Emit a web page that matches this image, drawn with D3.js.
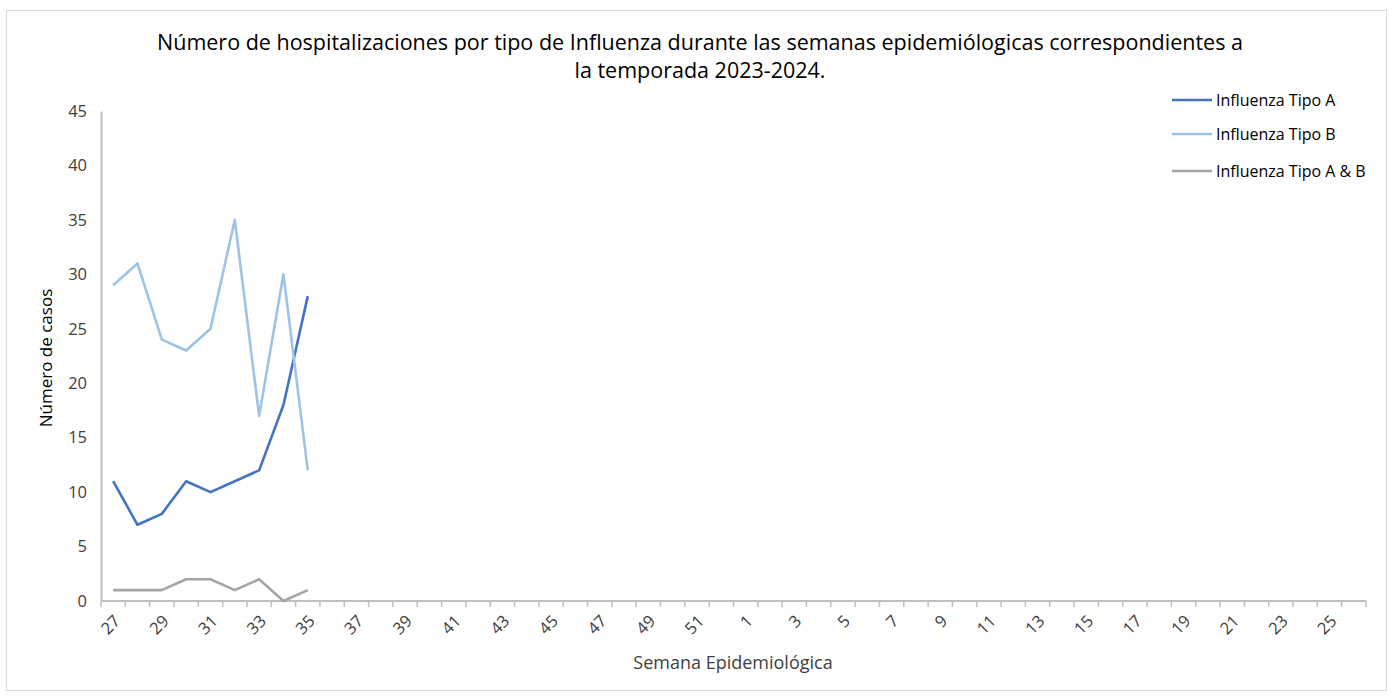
<!DOCTYPE html>
<html>
<head>
<meta charset="utf-8">
<script src="https://cdn.jsdelivr.net/npm/d3@7"></script>
<style>
  html, body { margin: 0; padding: 0; background: #ffffff; }
  svg { display: block; font-family: "Open Sans", "Noto Sans", sans-serif; }
</style>
</head>
<body>
<div id="chart"></div>
<script>
// weeks 27..52 of 2023 then 1..26 of 2024
const weeks = [
  27, 28, 29, 30, 31, 32, 33, 34, 35, 36, 37, 38, 39, 40, 41, 42, 43, 44, 45, 46, 47, 48, 49, 50, 51, 52,
  1, 2, 3, 4, 5, 6, 7, 8, 9, 10, 11, 12, 13, 14, 15, 16, 17, 18, 19, 20, 21, 22, 23, 24, 25, 26
];
const tipoA = [11, 7, 8, 11, 10, 11, 12, 18, 28];
const tipoB = [29, 31, 24, 23, 25, 35, 17, 30, 12];
const tipoAB = [1, 1, 1, 2, 2, 1, 2, 0, 1];
const yTicks = [0, 5, 10, 15, 20, 25, 30, 35, 40, 45];

const seriesNames = ['Influenza Tipo A', 'Influenza Tipo B', 'Influenza Tipo A & B'];
const seriesColors = ['#4472C4', '#9DC3E6', '#A5A5A5'];
const seriesValues = [tipoA, tipoB, tipoAB];

const width = 1392;
const height = 696;
const plot = { left: 101, right: 1366, top: 111, bottom: 601 };
const AXIS_COLOR = '#bfbfbf';
const TEXT_COLOR = '#404040';

const svg = d3.select('#chart').append('svg')
  .attr('width', width)
  .attr('height', height);

// outer chart border
svg.append('rect')
  .attr('x', 6.5).attr('y', 10.5)
  .attr('width', 1380).attr('height', 680)
  .attr('fill', '#ffffff')
  .attr('stroke', '#d9d9d9')
  .attr('stroke-width', 1);

const x = d3.scaleBand()
  .domain(weeks.map(String))
  .range([plot.left, plot.right])
  .padding(0);

const y = d3.scaleLinear()
  .domain([0, 45])
  .range([plot.bottom, plot.top]);

// title
const title = svg.append('text')
  .attr('text-anchor', 'middle')
  .attr('font-size', 21.5)
  .attr('fill', '#000000');
title.append('tspan').attr('x', 700).attr('y', 50)
  .text('Número de hospitalizaciones por tipo de Influenza durante las semanas epidemiólogicas correspondientes a');
title.append('tspan').attr('x', 700).attr('y', 78)
  .text('la temporada 2023-2024.');

// y axis
const yAxis = svg.append('g')
  .attr('transform', `translate(${plot.left},0)`)
  .call(d3.axisLeft(y).tickValues(yTicks).tickSize(0).tickPadding(14));
yAxis.select('.domain').attr('stroke', AXIS_COLOR).attr('stroke-width', 2);
yAxis.selectAll('text')
  .attr('font-family', '"Open Sans", "Noto Sans", sans-serif')
  .attr('font-size', 16.5)
  .attr('fill', TEXT_COLOR);

// x axis line and category ticks between weeks
const xg = svg.append('g');
xg.append('line')
  .attr('x1', plot.left).attr('x2', plot.right)
  .attr('y1', plot.bottom).attr('y2', plot.bottom)
  .attr('stroke', AXIS_COLOR).attr('stroke-width', 2);
xg.selectAll('line.tick')
  .data(weeks.map(String).concat(['end']))
  .join('line')
  .attr('class', 'tick')
  .attr('x1', (d) => (d === 'end' ? plot.right : x(d)))
  .attr('x2', (d) => (d === 'end' ? plot.right : x(d)))
  .attr('y1', plot.bottom)
  .attr('y2', plot.bottom + 6)
  .attr('stroke', AXIS_COLOR).attr('stroke-width', 1.5);

// rotated labels on every other week
xg.selectAll('text.xlab')
  .data(weeks.filter((d, i) => i % 2 === 0).map(String))
  .join('text')
  .attr('class', 'xlab')
  .attr('transform', (d) => `translate(${x(d) + x.bandwidth() / 2 + 4},${plot.bottom + 17}) rotate(-45)`)
  .attr('text-anchor', 'end')
  .attr('dy', '0.35em')
  .attr('font-size', 16.5)
  .attr('fill', TEXT_COLOR)
  .text((d) => d);

// axis titles
svg.append('text')
  .attr('transform', `translate(52,358) rotate(-90)`)
  .attr('text-anchor', 'middle')
  .attr('font-size', 17)
  .attr('fill', '#000000')
  .text('Número de casos');

svg.append('text')
  .attr('x', 733).attr('y', 669)
  .attr('text-anchor', 'middle')
  .attr('font-size', 18)
  .attr('fill', TEXT_COLOR)
  .text('Semana Epidemiológica');

// series lines
const line = d3.line()
  .x((d, i) => x(String(weeks[i])) + x.bandwidth() / 2)
  .y((d) => y(d));

seriesValues.forEach((vals, k) => {
  svg.append('path')
    .datum(vals)
    .attr('fill', 'none')
    .attr('stroke', seriesColors[k])
    .attr('stroke-width', 2.6)
    .attr('stroke-linejoin', 'round')
    .attr('d', line);
});

// legend
const legendY = [100, 134, 171];
const legend = svg.append('g');
seriesNames.forEach((name, k) => {
  legend.append('line')
    .attr('x1', 1172).attr('x2', 1212)
    .attr('y1', legendY[k]).attr('y2', legendY[k])
    .attr('stroke', seriesColors[k]).attr('stroke-width', 2.6);
  legend.append('text')
    .attr('x', 1216).attr('y', legendY[k])
    .attr('dy', '0.35em')
    .attr('font-size', 16)
    .attr('fill', '#000000')
    .text(name);
});
</script>
</body>
</html>
